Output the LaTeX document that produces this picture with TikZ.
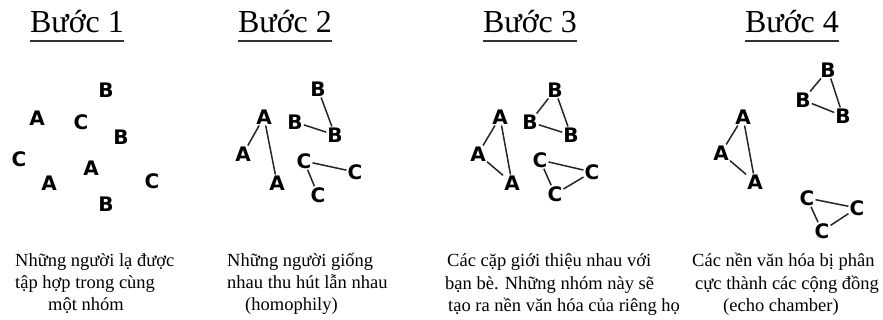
\documentclass[tikz,border=0pt]{standalone}
\usepackage{fontspec}
\setmainfont{Liberation Serif}
\newfontfamily\glyphfont{DejaVu Sans}
\begin{document}
\begin{tikzpicture}[x=1pt,y=-1pt]
\tikzset{
  member/.style={font=\glyphfont\bfseries\fontsize{20}{20}\selectfont, inner sep=1pt},
  tie/.style={line width=1.5pt, black!85},
  steptitle/.style={font=\fontsize{32}{32}\selectfont, anchor=base, inner sep=0pt},
  caption/.style={font=\fontsize{18.5}{18.5}\selectfont, anchor=base west, inner sep=0pt},
  rule/.style={line width=1.8pt, black!80}
}
\useasboundingbox (0,0) rectangle (883,320);
\fill[white] (0,0) rectangle (883,320);

% step titles with underlines
\node[steptitle] (t1) at (77,33) {Bước 1};
\node[steptitle] (t2) at (285,33) {Bước 2};
\node[steptitle] (t3) at (530,33) {Bước 3};
\node[steptitle] (t4) at (792,33) {Bước 4};
\foreach \t in {t1,t2,t3,t4}
  \draw[rule] ([yshift=-8pt]\t.base west) -- ([yshift=-8pt]\t.base east);

% step 1: scattered strangers
\node[member] (p1b1) at (106,90) {B};
\node[member] (p1a1) at (37,118) {A};
\node[member] (p1c1) at (81,122) {C};
\node[member] (p1b2) at (121,137) {B};
\node[member] (p1c2) at (19,159) {C};
\node[member] (p1a2) at (91,168) {A};
\node[member] (p1a3) at (49,183) {A};
\node[member] (p1c3) at (152,181) {C};
\node[member] (p1b3) at (106,204) {B};

% step 2: similar people attract
\node[member] (p2bt) at (318,89) {B};
\node[member] (p2at) at (264,117) {A};
\node[member] (p2bl) at (295,122) {B};
\node[member] (p2br) at (335,135) {B};
\node[member] (p2al) at (243,154) {A};
\node[member] (p2ct) at (304,161) {C};
\node[member] (p2cr) at (355,172) {C};
\node[member] (p2ab) at (277,183) {A};
\node[member] (p2cb) at (318,195) {C};
\draw[tie] (p2at) -- (p2al);
\draw[tie] (p2at) -- (p2ab);
\draw[tie] (p2bt) -- (p2br);
\draw[tie] (p2bl) -- (p2br);
\draw[tie] (p2ct) -- (p2cr);
\draw[tie] (p2ct) -- (p2cb);

% step 3: closed groups
\node[member] (p3bt) at (555,90) {B};
\node[member] (p3at) at (500,117) {A};
\node[member] (p3bl) at (530,122) {B};
\node[member] (p3br) at (571,135) {B};
\node[member] (p3al) at (478,154) {A};
\node[member] (p3ct) at (540,160) {C};
\node[member] (p3cr) at (592,172) {C};
\node[member] (p3ab) at (512,183) {A};
\node[member] (p3cb) at (555,194) {C};
\draw[tie] (p3at) -- (p3al) -- (p3ab) -- (p3at);
\draw[tie] (p3bt) -- (p3bl) -- (p3br) -- (p3bt);
\draw[tie] (p3ct) -- (p3cr) -- (p3cb) -- (p3ct);

% step 4: polarised communities
\node[member] (p4bt) at (828,70) {B};
\node[member] (p4bl) at (803,100) {B};
\node[member] (p4br) at (843,116) {B};
\node[member] (p4at) at (743,117) {A};
\node[member] (p4al) at (721,153) {A};
\node[member] (p4ab) at (755,182) {A};
\node[member] (p4ct) at (807,198) {C};
\node[member] (p4cr) at (857,208) {C};
\node[member] (p4cb) at (822,231) {C};
\draw[tie] (p4at) -- (p4al) -- (p4ab) -- (p4at);
\draw[tie] (p4bt) -- (p4bl) -- (p4br) -- (p4bt);
\draw[tie] (p4ct) -- (p4cr) -- (p4cb) -- (p4ct);

% captions
\node[caption] (c1a) at (15,266) {Những người lạ được};
\node[caption] (c1b) at (15,288) {tập hợp trong cùng};
\node[caption] (c1c) at (48,310) {một nhóm};

\node[caption] (c2a) at (227,266) {Những người giống};
\node[caption] (c2b) at (227,288) {nhau thu hút lẫn nhau};
\node[caption] (c2c) at (245,310) {(homophily)};

\node[caption] (c3a) at (447,267) {Các cặp giới thiệu nhau với};
\node[caption] (c3b) at (445,289) {bạn bè. Những nhóm này sẽ};
\node[caption] (c3c) at (448,311) {tạo ra nền văn hóa của riêng họ};

\node[caption] (c4a) at (692,267) {Các nền văn hóa bị phân};
\node[caption] (c4b) at (695,289) {cực thành các cộng đồng};
\node[caption] (c4c) at (723,311) {(echo chamber)};
\end{tikzpicture}
\end{document}
